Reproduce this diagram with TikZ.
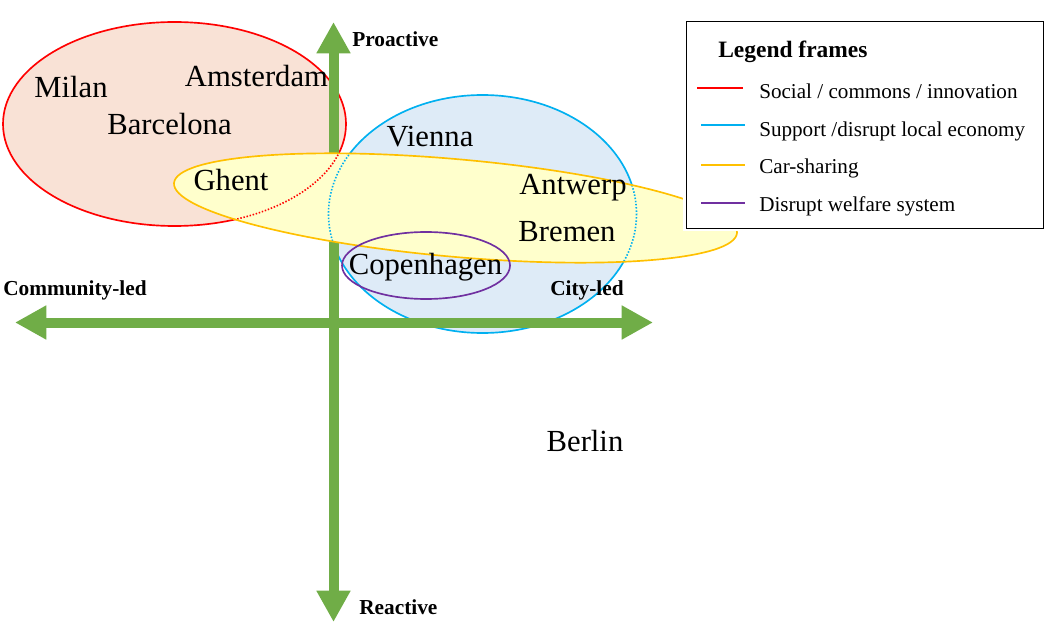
\documentclass[tikz,border=0pt]{standalone}
\usepackage{fontspec}
\setmainfont{Liberation Serif}
\usetikzlibrary{arrows.meta}
\definecolor{redline}{HTML}{FF0000}
\definecolor{redfill}{HTML}{F9E2D6}
\definecolor{blueline}{HTML}{00B0F0}
\definecolor{bluefill}{HTML}{DEEBF7}
\definecolor{yelline}{HTML}{FFC000}
\definecolor{yelfill}{HTML}{FFFFCC}
\definecolor{purpline}{HTML}{7030A0}
\definecolor{axisgreen}{HTML}{70AD47}
\begin{document}
\begin{tikzpicture}[x=0.75pt,y=-0.75pt,
  city/.style={font=\fontsize{23}{27}\selectfont, anchor=base, inner sep=0pt},
  axislabel/.style={font=\bfseries\fontsize{16}{19}\selectfont, anchor=base west, inner sep=0pt},
  legtext/.style={font=\fontsize{15.85}{19}\selectfont, anchor=base west, inner sep=0pt},
  legtitle/.style={font=\bfseries\fontsize{17.6}{21}\selectfont, anchor=base west, inner sep=0pt},
  frameline/.style={line width=1.25pt},
  dotline/.style={line width=1.2pt, dash pattern=on 1.1pt off 1.3pt},
  axisarrow/.style={draw=axisgreen, line width=7.5pt,
    {Triangle[length=23.5pt,width=24pt]}-{Triangle[length=23.5pt,width=24pt]}},
  yellowshape/.style={shift={(455.5,208)}, rotate=-5.08},
]
\useasboundingbox (0,0) rectangle (1048,623);

% red frame
\path[fill=redfill, draw=redline, frameline] (174.5,124) ellipse [x radius=171.5, y radius=102];
% blue frame
\path[fill=bluefill, draw=blueline, frameline] (482.5,214) ellipse [x radius=154, y radius=119];

% axes
\coordinate (top) at (333.5,22);
\coordinate (bottom) at (333.5,622);
\coordinate (left) at (15,322.5);
\coordinate (right) at (653,322.5);
\draw[axisarrow] (bottom) -- (top);
\draw[axisarrow] (left) -- (right);

% yellow frame
\path[yellowshape, fill=yelfill] (0,0) ellipse [x radius=282.6, y radius=48.8];
\begin{scope}
  \clip[yellowshape] (0,0) ellipse [x radius=282.6, y radius=48.8];
  \draw[redline, dotline] (174.5,124) ellipse [x radius=171.5, y radius=102];
  \draw[blueline, dotline] (482.5,214) ellipse [x radius=154, y radius=119];
\end{scope}
\draw[yellowshape, yelline, frameline] (0,0) ellipse [x radius=282.6, y radius=48.8];

% purple frame
\draw[purpline, frameline] (426,265.5) ellipse [x radius=84, y radius=33.5];

% city labels
\node[city] (milan) at (71,98) {Milan};
\node[city] (amsterdam) at (256.5,87) {Amsterdam};
\node[city] (barcelona) at (169.5,135) {Barcelona};
\node[city] (vienna) at (430,146.5) {Vienna};
\node[city] (ghent) at (231,190.5) {Ghent};
\node[city] (antwerp) at (573,195) {Antwerp};
\node[city] (bremen) at (567,241.5) {Bremen};
\node[city] (copenhagen) at (425.5,274.5) {Copenhagen};
\node[city] (berlin) at (585,451.5) {Berlin};

% axis labels
\node[axislabel] (proactive) at (352,47) {Proactive};
\node[axislabel] (reactive) at (359,614) {Reactive};
\node[axislabel] (community) at (3,295.5) {Community-led};
\node[axislabel] (citylabel) at (550,296) {City-led};

% legend
\fill[white] (683,18) rectangle (1046,231);
\node[draw=black, line width=0.75pt, fill=white, inner sep=0pt, anchor=north west,
      minimum width=267.75pt, minimum height=155.25pt] (legend) at (686,21) {};
\node[legtitle] (legtitle) at (718,58) {Legend frames};
\coordinate (l1a) at (697,88);  \coordinate (l1b) at (743,88);
\coordinate (l2a) at (701,125); \coordinate (l2b) at (745,125);
\coordinate (l3a) at (701,165); \coordinate (l3b) at (745,165);
\coordinate (l4a) at (701,203); \coordinate (l4b) at (745,203);
\draw[redline, frameline] (l1a) -- (l1b);
\draw[blueline, frameline] (l2a) -- (l2b);
\draw[yelline, frameline] (l3a) -- (l3b);
\draw[purpline, frameline] (l4a) -- (l4b);
\node[legtext] (leg1) at (759,98.5) {Social / commons / innovation};
\node[legtext] (leg2) at (759,136.5) {Support /disrupt local economy};
\node[legtext] (leg3) at (759,174) {Car-sharing};
\node[legtext] (leg4) at (759,212) {Disrupt welfare system};
\end{tikzpicture}
\end{document}
